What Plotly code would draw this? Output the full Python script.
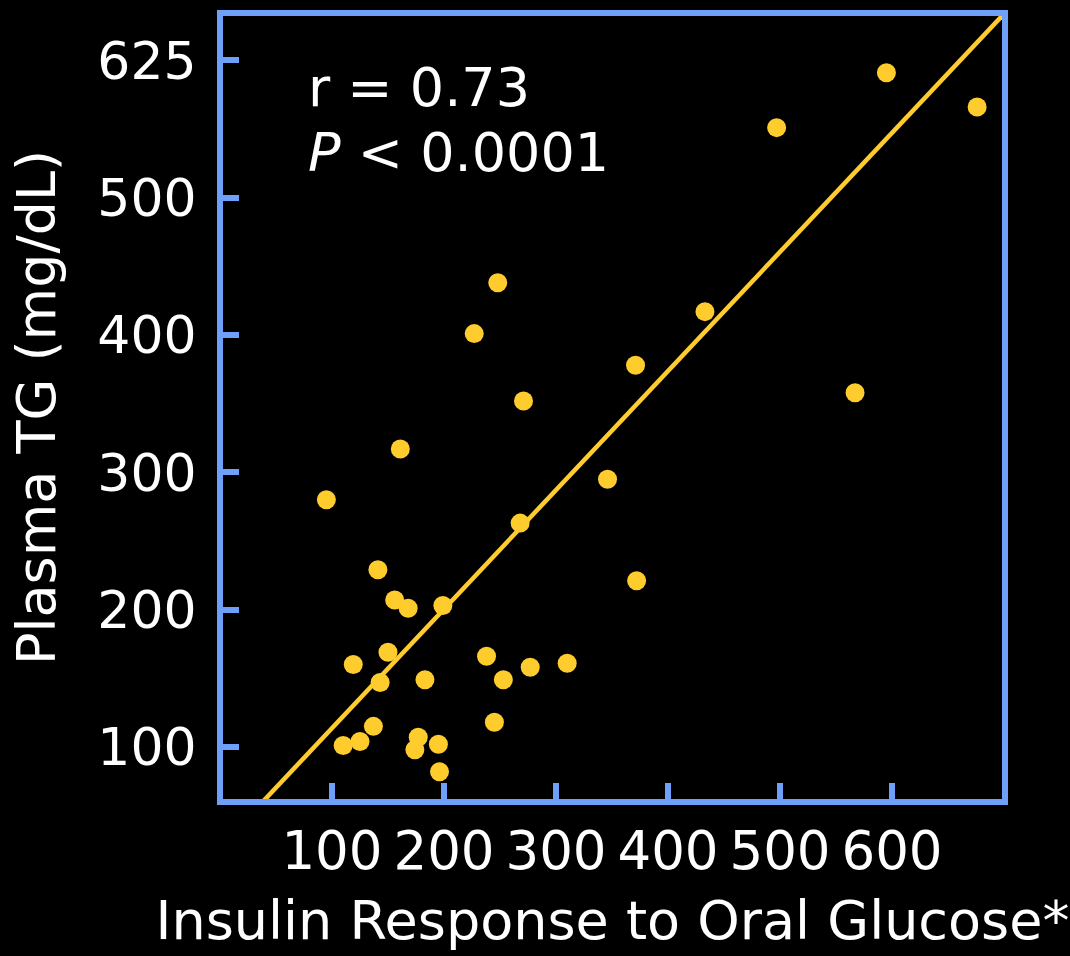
import plotly.graph_objects as go

# Data
insulin = [95, 110, 119, 125, 137, 141, 143, 150, 156, 161, 168, 174, 177, 183, 195, 196, 199,
           227, 238, 245, 248, 253, 268, 271, 277, 310, 346, 371, 372, 433, 497, 567, 595, 676]
plasma_tg = [280, 101, 160, 104, 115, 229, 147, 169, 207, 317, 201, 98, 107, 149, 102, 82, 203,
             401, 166, 118, 438, 149, 263, 352, 158, 161, 295, 378, 221, 417, 551, 358, 591, 566]

fit_intercept = 27.0
fit_slope = 0.867
fit_x = [0, 700]
fit_y = [fit_intercept + fit_slope * v for v in fit_x]

x_ticks = [100, 200, 300, 400, 500, 600]
x_tick_labels = ["100", "200", "300", "400", "500", "600"]
y_ticks = [100, 200, 300, 400, 500, 600]
y_tick_labels = ["100", "200", "300", "400", "500", "625"]

BLUE = "#6FA0F8"
GOLD = "#FFCC2E"
FONT = "DejaVu Sans"

fig = go.Figure()
fig.add_trace(go.Scatter(x=fit_x, y=fit_y, mode="lines",
                         line=dict(color=GOLD, width=4.5), showlegend=False, hoverinfo="skip"))
fig.add_trace(go.Scatter(x=insulin, y=plasma_tg, mode="markers",
                         marker=dict(color=GOLD, size=19, line=dict(width=0)),
                         showlegend=False))

axis_common = dict(showline=True, mirror=True, linecolor=BLUE, linewidth=6,
                   ticks="inside", ticklen=16, tickwidth=6, tickcolor=BLUE,
                   showgrid=False, zeroline=False)

fig.update_xaxes(range=[2.7, 698.2], tickvals=x_ticks, ticktext=x_tick_labels,
                 tickfont=dict(family=FONT, size=53, color="white"),
                 title=dict(text="Insulin Response to Oral Glucose*",
                            font=dict(family=FONT, size=54, color="white"), standoff=24),
                 ticklabelstandoff=0, **axis_common)
fig.update_yaxes(range=[62.1, 632.3], tickvals=y_ticks, ticktext=y_tick_labels,
                 tickfont=dict(family=FONT, size=52, color="white"),
                 title=dict(text="Plasma TG (mg/dL)",
                            font=dict(family=FONT, size=54, color="white"), standoff=26),
                 ticklabelstandoff=10, **axis_common)

fig.add_annotation(xref="paper", yref="paper", x=0.106, y=0.909, xanchor="left", yanchor="middle",
                   text="r = 0.73", showarrow=False,
                   font=dict(family=FONT, size=54, color="white"))
fig.add_annotation(xref="paper", yref="paper", x=0.106, y=0.826, xanchor="left", yanchor="middle",
                   text="<i>P</i> < 0.0001", showarrow=False,
                   font=dict(family=FONT, size=54, color="white"))

fig.update_layout(width=1070, height=956, autosize=False,
                  paper_bgcolor="black", plot_bgcolor="black",
                  margin=dict(l=223, r=68, t=9.5, b=156.5))

fig.write_html("out.html", config={"displayModeBar": False},
               post_script="document.body.style.margin='0';document.body.style.background='black';")
